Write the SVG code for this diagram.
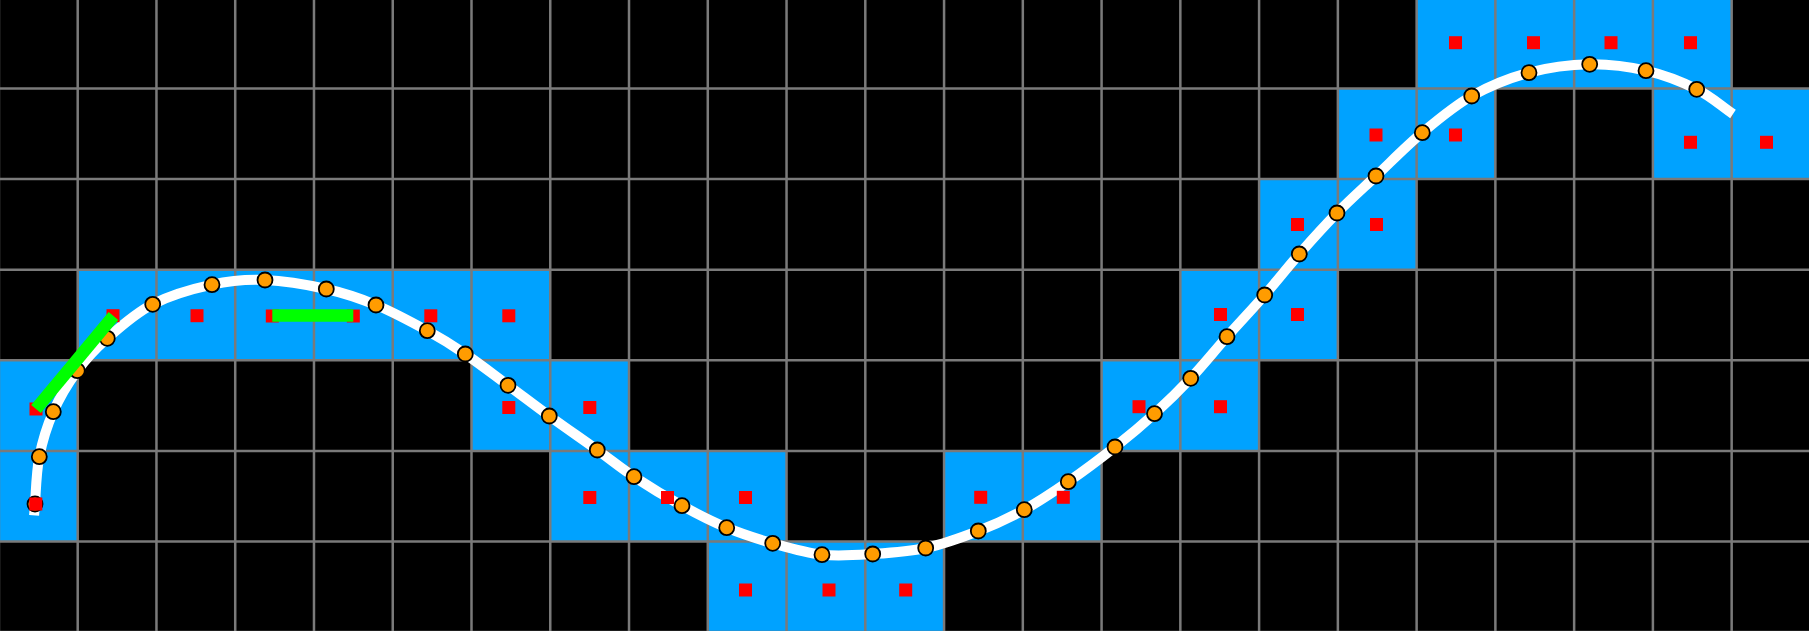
<svg xmlns="http://www.w3.org/2000/svg" width="1809" height="631" viewBox="0 0 1809 631">
<style>
.cell{fill:#00a2ff}
.grid{stroke:#7a7a7a;stroke-width:2.5;fill:none}
.curve{stroke:#ffffff;stroke-width:10;fill:none;stroke-linecap:butt}
.pt{fill:#ff9c00;stroke:#000;stroke-width:1.8}
.mk{fill:#ff0000}
.seg{stroke:#00ff00;stroke-width:12.5;stroke-linecap:butt}
</style>
<rect id="background" x="0" y="0" width="1809" height="631" fill="#000"/>
<g id="cells">
<rect class="cell" x="1416.62" y="-2.1" width="78.76" height="90.6"/>
<rect class="cell" x="1495.38" y="-2.1" width="78.76" height="90.6"/>
<rect class="cell" x="1574.14" y="-2.1" width="78.76" height="90.6"/>
<rect class="cell" x="1652.9" y="-2.1" width="78.76" height="90.6"/>
<rect class="cell" x="1337.86" y="88.5" width="78.76" height="90.6"/>
<rect class="cell" x="1416.62" y="88.5" width="78.76" height="90.6"/>
<rect class="cell" x="1652.9" y="88.5" width="78.76" height="90.6"/>
<rect class="cell" x="1731.66" y="88.5" width="78.76" height="90.6"/>
<rect class="cell" x="1259.1" y="179.1" width="78.76" height="90.6"/>
<rect class="cell" x="1337.86" y="179.1" width="78.76" height="90.6"/>
<rect class="cell" x="77.7" y="269.7" width="78.76" height="90.6"/>
<rect class="cell" x="156.46" y="269.7" width="78.76" height="90.6"/>
<rect class="cell" x="235.22" y="269.7" width="78.76" height="90.6"/>
<rect class="cell" x="313.98" y="269.7" width="78.76" height="90.6"/>
<rect class="cell" x="392.74" y="269.7" width="78.76" height="90.6"/>
<rect class="cell" x="471.5" y="269.7" width="78.76" height="90.6"/>
<rect class="cell" x="1180.34" y="269.7" width="78.76" height="90.6"/>
<rect class="cell" x="1259.1" y="269.7" width="78.76" height="90.6"/>
<rect class="cell" x="-1.06" y="360.3" width="78.76" height="90.6"/>
<rect class="cell" x="471.5" y="360.3" width="78.76" height="90.6"/>
<rect class="cell" x="550.26" y="360.3" width="78.76" height="90.6"/>
<rect class="cell" x="1101.58" y="360.3" width="78.76" height="90.6"/>
<rect class="cell" x="1180.34" y="360.3" width="78.76" height="90.6"/>
<rect class="cell" x="-1.06" y="450.9" width="78.76" height="90.6"/>
<rect class="cell" x="550.26" y="450.9" width="78.76" height="90.6"/>
<rect class="cell" x="629.02" y="450.9" width="78.76" height="90.6"/>
<rect class="cell" x="707.78" y="450.9" width="78.76" height="90.6"/>
<rect class="cell" x="944.06" y="450.9" width="78.76" height="90.6"/>
<rect class="cell" x="1022.82" y="450.9" width="78.76" height="90.6"/>
<rect class="cell" x="707.78" y="541.5" width="78.76" height="90.6"/>
<rect class="cell" x="786.54" y="541.5" width="78.76" height="90.6"/>
<rect class="cell" x="865.3" y="541.5" width="78.76" height="90.6"/>
</g>
<g id="grid">
<path class="grid" d="M-1.06 -3V633M77.7 -3V633M156.46 -3V633M235.22 -3V633M313.98 -3V633M392.74 -3V633M471.5 -3V633M550.26 -3V633M629.02 -3V633M707.78 -3V633M786.54 -3V633M865.3 -3V633M944.06 -3V633M1022.82 -3V633M1101.58 -3V633M1180.34 -3V633M1259.1 -3V633M1337.86 -3V633M1416.62 -3V633M1495.38 -3V633M1574.14 -3V633M1652.9 -3V633M1731.66 -3V633M1810.42 -3V633"/>
<path class="grid" d="M-2 -2.1H1812M-2 88.5H1812M-2 179.1H1812M-2 269.7H1812M-2 360.3H1812M-2 450.9H1812M-2 541.5H1812M-2 632.1H1812"/>
</g>
<g id="connectors">
<path id="curve" class="curve" d="M34.1 515.4L35 504C35.8 494.28 36.25 472.08 39.3 456.7C42.35 441.32 46.97 426.03 53.3 411.7C59.63 397.37 68.3 382.93 77.3 370.7C86.3 358.47 94.73 349.37 107.3 338.3C119.87 327.23 135.25 313.23 152.7 304.3C170.15 295.37 193.28 288.75 212 284.7C230.72 280.65 245.95 279.28 265 280C284.05 280.72 307.8 284.83 326.3 289C344.8 293.17 359.17 298.05 376 305C392.83 311.95 412.42 322.53 427.3 330.7C442.18 338.87 451.85 344.9 465.3 354C478.75 363.1 494 374.97 508 385.3C522 395.63 534.42 405.22 549.3 416C564.18 426.78 583.18 439.88 597.3 450C611.42 460.12 619.88 467.42 634 476.7C648.12 485.98 666.55 497.2 682 505.7C697.45 514.2 711.58 521.43 726.7 527.7C741.82 533.97 756.82 538.8 772.7 543.3C788.58 547.8 805.33 552.92 822 554.7C838.67 556.48 855.42 555.12 872.7 554C889.98 552.88 908.1 551.83 925.7 548C943.3 544.17 961.87 537.38 978.3 531C994.73 524.62 1009.3 517.92 1024.3 509.7C1039.3 501.48 1053.18 492.15 1068.3 481.7C1083.42 471.25 1100.63 458.33 1115 447C1129.37 435.67 1141.88 425.15 1154.5 413.7C1167.12 402.25 1178.62 391.13 1190.7 378.3C1202.78 365.47 1214.67 350.58 1227 336.7C1239.33 322.82 1252.65 308.78 1264.7 295C1276.75 281.22 1287.25 267.67 1299.3 254C1311.35 240.33 1324.22 226 1337 213C1349.78 200 1361.78 189.38 1376 176C1390.22 162.62 1406.35 146.03 1422.3 132.7C1438.25 119.37 1453.92 106 1471.7 96C1489.48 86 1509.33 77.98 1529 72.7C1548.67 67.42 1570.2 64.63 1589.7 64.3C1609.2 63.97 1628.17 66.53 1646 70.7C1663.83 74.87 1682.2 82.08 1696.7 89.3C1711.2 96.52 1720.9 105.77 1733 114"/>
</g>
<g id="samples">
<circle class="pt" cx="35" cy="504" r="7.5"/>
<circle class="pt" cx="39.3" cy="456.7" r="7.5"/>
<circle class="pt" cx="53.3" cy="411.7" r="7.5"/>
<circle class="pt" cx="77.3" cy="370.7" r="7.5"/>
<circle class="pt" cx="107.3" cy="338.3" r="7.5"/>
<circle class="pt" cx="152.7" cy="304.3" r="7.5"/>
<circle class="pt" cx="212" cy="284.7" r="7.5"/>
<circle class="pt" cx="265" cy="280" r="7.5"/>
<circle class="pt" cx="326.3" cy="289" r="7.5"/>
<circle class="pt" cx="376" cy="305" r="7.5"/>
<circle class="pt" cx="427.3" cy="330.7" r="7.5"/>
<circle class="pt" cx="465.3" cy="354" r="7.5"/>
<circle class="pt" cx="508" cy="385.3" r="7.5"/>
<circle class="pt" cx="549.3" cy="416" r="7.5"/>
<circle class="pt" cx="597.3" cy="450" r="7.5"/>
<circle class="pt" cx="634" cy="476.7" r="7.5"/>
<circle class="pt" cx="682" cy="505.7" r="7.5"/>
<circle class="pt" cx="726.7" cy="527.7" r="7.5"/>
<circle class="pt" cx="772.7" cy="543.3" r="7.5"/>
<circle class="pt" cx="822" cy="554.7" r="7.5"/>
<circle class="pt" cx="872.7" cy="554" r="7.5"/>
<circle class="pt" cx="925.7" cy="548" r="7.5"/>
<circle class="pt" cx="978.3" cy="531" r="7.5"/>
<circle class="pt" cx="1024.3" cy="509.7" r="7.5"/>
<circle class="pt" cx="1068.3" cy="481.7" r="7.5"/>
<circle class="pt" cx="1115" cy="447" r="7.5"/>
<circle class="pt" cx="1154.5" cy="413.7" r="7.5"/>
<circle class="pt" cx="1190.7" cy="378.3" r="7.5"/>
<circle class="pt" cx="1227" cy="336.7" r="7.5"/>
<circle class="pt" cx="1264.7" cy="295" r="7.5"/>
<circle class="pt" cx="1299.3" cy="254" r="7.5"/>
<circle class="pt" cx="1337" cy="213" r="7.5"/>
<circle class="pt" cx="1376" cy="176" r="7.5"/>
<circle class="pt" cx="1422.3" cy="132.7" r="7.5"/>
<circle class="pt" cx="1471.7" cy="96" r="7.5"/>
<circle class="pt" cx="1529" cy="72.7" r="7.5"/>
<circle class="pt" cx="1589.7" cy="64.3" r="7.5"/>
<circle class="pt" cx="1646" cy="70.7" r="7.5"/>
<circle class="pt" cx="1696.7" cy="89.3" r="7.5"/>
</g>
<g id="markers">
<rect class="mk" x="1449" y="36.2" width="13" height="13"/>
<rect class="mk" x="1527" y="36.2" width="13" height="13"/>
<rect class="mk" x="1604.5" y="36.2" width="13" height="13"/>
<rect class="mk" x="1684" y="36.2" width="13" height="13"/>
<rect class="mk" x="1369.5" y="128.5" width="13" height="13"/>
<rect class="mk" x="1449" y="128.5" width="13" height="13"/>
<rect class="mk" x="1684" y="135.8" width="13" height="13"/>
<rect class="mk" x="1760" y="135.8" width="13" height="13"/>
<rect class="mk" x="1291" y="218" width="13" height="13"/>
<rect class="mk" x="1370" y="218" width="13" height="13"/>
<rect class="mk" x="106.5" y="309.2" width="13" height="13"/>
<rect class="mk" x="190.5" y="309.2" width="13" height="13"/>
<rect class="mk" x="265.8" y="309.5" width="13" height="13"/>
<rect class="mk" x="346.8" y="309.5" width="13" height="13"/>
<rect class="mk" x="424.3" y="309.3" width="13" height="13"/>
<rect class="mk" x="502.3" y="309.3" width="13" height="13"/>
<rect class="mk" x="1214" y="308" width="13" height="13"/>
<rect class="mk" x="1291" y="308" width="13" height="13"/>
<rect class="mk" x="29.5" y="402.5" width="13" height="13"/>
<rect class="mk" x="502.3" y="401" width="13" height="13"/>
<rect class="mk" x="583.3" y="401" width="13" height="13"/>
<rect class="mk" x="1132.5" y="400.2" width="13" height="13"/>
<rect class="mk" x="1214" y="400.2" width="13" height="13"/>
<rect class="mk" x="29.3" y="497.5" width="13" height="13"/>
<rect class="mk" x="583.3" y="491" width="13" height="13"/>
<rect class="mk" x="661" y="491" width="13" height="13"/>
<rect class="mk" x="739" y="491" width="13" height="13"/>
<rect class="mk" x="974.2" y="490.8" width="13" height="13"/>
<rect class="mk" x="1056.8" y="490.8" width="13" height="13"/>
<rect class="mk" x="739" y="583.5" width="13" height="13"/>
<rect class="mk" x="822.5" y="583.5" width="13" height="13"/>
<rect class="mk" x="899.2" y="583.5" width="13" height="13"/>
</g>
<g id="segments">
<line class="seg" x1="36" y1="409" x2="113.5" y2="316"/>
<line class="seg" x1="272.3" y1="315.6" x2="353.3" y2="315.6"/>
</g>
</svg>
